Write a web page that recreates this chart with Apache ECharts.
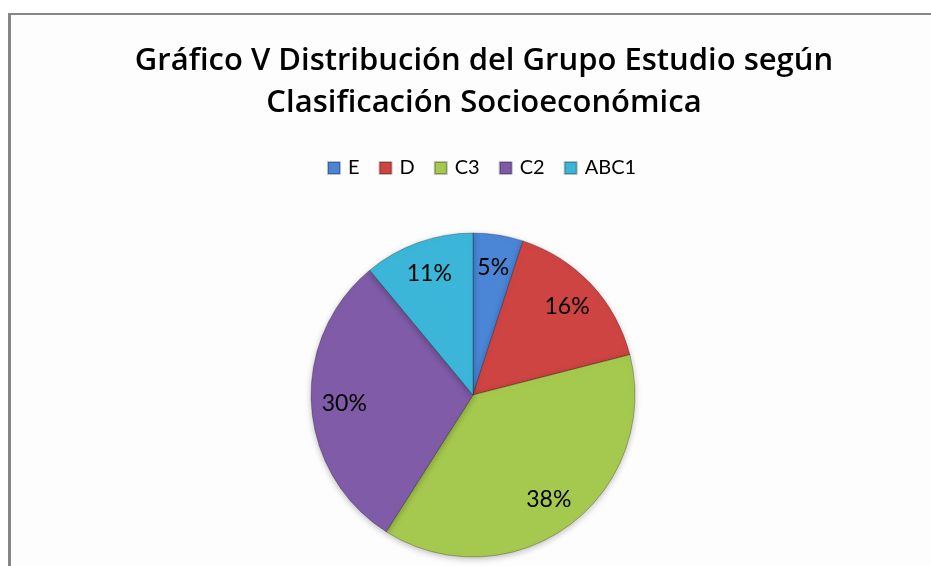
<!DOCTYPE html>
<html>
<head>
<meta charset="utf-8">
<script src="https://cdn.jsdelivr.net/npm/echarts@6/dist/echarts.min.js"></script>
<style>
html,body{margin:0;padding:0;background:#fff;}
#c{width:931px;height:566px;}
</style>
</head>
<body>
<div id="c"></div>
<script>
const titleLines = ['Gráfico V Distribución del Grupo Estudio según', 'Clasificación Socioeconómica'];
const categories = ['E', 'D', 'C3', 'C2', 'ABC1'];
const values = [5, 16, 38, 30, 11];
const colors = ['#4a85d6', '#cd4442', '#a5c84e', '#7f5ba8', '#3cb6d8'];

const chart = echarts.init(document.getElementById('c'));
const data = categories.map((n, i) => ({name: n, value: values[i], itemStyle: {color: colors[i]}}));
const labelData = categories.map((n, i) => ({name: n, value: values[i]}));
const CX = 473, CY = 395, R = 162;

chart.setOption({
  animation: false,
  backgroundColor: '#ffffff',
  graphic: [
    {type: 'rect', shape: {x: 8, y: 13, width: 1000, height: 600}, style: {fill: '#fdfdfd'}, z: -10},
    {type: 'rect', shape: {x: 8, y: 13, width: 3, height: 600}, style: {fill: '#868686'}, z: -9},
    {type: 'rect', shape: {x: 8, y: 13, width: 1000, height: 2}, style: {fill: '#868686'}, z: -9}
  ],
  title: {
    text: titleLines.join('\n'),
    left: 479, top: 35, textAlign: 'center',
    textStyle: {fontFamily: 'Open Sans', fontWeight: 600, fontSize: 31, lineHeight: 42, color: '#000'}
  },
  legend: {
    data: categories,
    left: 322, top: 153,
    itemWidth: 12, itemHeight: 12, itemGap: 19,
    icon: 'rect',
    textStyle: {fontFamily: 'Lato', fontSize: 20, color: '#000', padding: [0, 0, 0, 3]}
  },
  series: [
    {
      type: 'pie', center: [CX, CY], radius: [0, R], startAngle: 90, clockwise: true,
      data: data,
      label: {show: false}, labelLine: {show: false},
      itemStyle: {borderColor: 'rgba(0,0,0,0.25)', borderWidth: 1, shadowBlur: 6, shadowColor: 'rgba(0,0,0,0.25)', shadowOffsetY: 2},
      emphasis: {disabled: true}, silent: true
    },
    {
      type: 'pie', center: [CX, CY], radius: [90, R], startAngle: 90, clockwise: true,
      data: labelData,
      itemStyle: {color: 'rgba(0,0,0,0)'},
      label: {show: true, position: 'inside', formatter: '{c}%', fontFamily: 'Lato', fontSize: 23, color: '#000'},
      labelLine: {show: false},
      emphasis: {disabled: true}, silent: true, legendHoverLink: false
    }
  ]
});
</script>
</body>
</html>
